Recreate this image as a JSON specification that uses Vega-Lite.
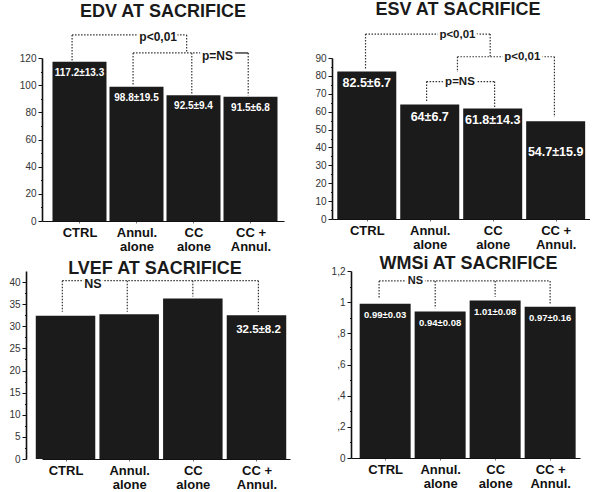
{
  "$schema": "https://vega.github.io/schema/vega-lite/v6.json",
  "padding": 0,
  "background": "white",
  "columns": 1,
  "spacing": 1,
  "config": {
    "view": {"stroke": null},
    "font": "Liberation Sans",
    "title": {"font": "Liberation Sans", "fontSize": 18, "fontWeight": "bold", "color": "#1a1a1a", "frame": "group", "anchor": "middle"},
    "axis": {"grid": false, "title": null, "labelFont": "Liberation Sans", "domainColor": "#111", "tickColor": "#111"},
    "axisY": {"domainWidth": 1.6, "labelFontSize": 10, "labelColor": "#333", "labelPadding": 2, "tickWidth": 1},
    "axisX": {"domainWidth": 1, "labelFontSize": 13, "labelFontWeight": "bold", "labelColor": "#111", "labelLineHeight": 14.5, "labelPadding": 3, "tickSize": 2, "tickColor": "#777", "labelFlush": false, "labelOverlap": false, "labelBound": false}
  },
  "datasets": {
    "edv": [
      {"group": "CTRL", "pos": 1, "value": 117.2, "label": "117.2±13.3"},
      {"group": "Annul. alone", "pos": 2, "value": 98.8, "label": "98.8±19.5"},
      {"group": "CC alone", "pos": 3, "value": 92.5, "label": "92.5±9.4"},
      {"group": "CC + Annul.", "pos": 4, "value": 91.5, "label": "91.5±6.8"}
    ],
    "edv_links": [
      {"pos": 0.87, "pos2": 2.88, "value": 137, "value2": 137},
      {"pos": 0.87, "pos2": 0.87, "value": 137, "value2": 118},
      {"pos": 2.88, "pos2": 2.88, "value": 137, "value2": 123.7},
      {"pos": 1.94, "pos2": 3.72, "value": 123.7, "value2": 123.7},
      {"pos": 1.94, "pos2": 1.94, "value": 123.7, "value2": 100.5},
      {"pos": 2.97, "pos2": 2.97, "value": 123.7, "value2": 93.8},
      {"pos": 3.96, "pos2": 3.96, "value": 123.7, "value2": 92.5}
    ],
    "edv_solid": [
      {"pos": 3.72, "pos2": 3.96, "value": 123.7, "value2": 123.7}
    ],
    "edv_notes": [
      {"pos": 2.38, "value": 135.1, "label": "p<0,01"},
      {"pos": 3.42, "value": 121.5, "label": "p=NS"}
    ],
    "esv": [
      {"group": "CTRL", "pos": 1, "value": 82.5, "label": "82.5±6.7"},
      {"group": "Annul. alone", "pos": 2, "value": 64, "label": "64±6.7"},
      {"group": "CC alone", "pos": 3, "value": 61.8, "label": "61.8±14.3"},
      {"group": "CC + Annul.", "pos": 4, "value": 54.7, "label": "54.7±15.9"}
    ],
    "esv_links": [
      {"pos": 0.98, "pos2": 2.96, "value": 103.4, "value2": 103.4},
      {"pos": 0.98, "pos2": 0.98, "value": 103.4, "value2": 83.3},
      {"pos": 2.96, "pos2": 2.96, "value": 103.4, "value2": 90.7},
      {"pos": 2.44, "pos2": 3.98, "value": 90.7, "value2": 90.7},
      {"pos": 2.44, "pos2": 2.44, "value": 90.7, "value2": 82.2},
      {"pos": 3.98, "pos2": 3.98, "value": 90.7, "value2": 57},
      {"pos": 1.95, "pos2": 3.03, "value": 76.8, "value2": 76.8},
      {"pos": 1.95, "pos2": 1.95, "value": 76.8, "value2": 65.6},
      {"pos": 3.03, "pos2": 3.03, "value": 76.8, "value2": 62.6}
    ],
    "esv_notes": [
      {"pos": 2.44, "value": 103.1, "label": "p<0,01"},
      {"pos": 3.47, "value": 90.6, "label": "p<0,01"},
      {"pos": 2.48, "value": 76.6, "label": "p=NS"}
    ],
    "lvef": [
      {"group": "CTRL", "pos": 1, "value": 32.4, "label": ""},
      {"group": "Annul. alone", "pos": 2, "value": 32.7, "label": ""},
      {"group": "CC alone", "pos": 3, "value": 36.3, "label": ""},
      {"group": "CC + Annul.", "pos": 4, "value": 32.5, "label": "32.5±8.2"}
    ],
    "lvef_links": [
      {"pos": 0.95, "pos2": 4.03, "value": 40.3, "value2": 40.3},
      {"pos": 0.95, "pos2": 0.95, "value": 40.3, "value2": 33.3},
      {"pos": 1.97, "pos2": 1.97, "value": 40.3, "value2": 33.3},
      {"pos": 3.0, "pos2": 3.0, "value": 40.3, "value2": 36.7},
      {"pos": 4.03, "pos2": 4.03, "value": 40.3, "value2": 33.3}
    ],
    "lvef_notes": [
      {"pos": 1.43, "value": 39.5, "label": "NS"}
    ],
    "wmsi": [
      {"group": "CTRL", "pos": 1, "value": 0.99, "label": "0.99±0.03"},
      {"group": "Annul. alone", "pos": 2, "value": 0.94, "label": "0.94±0.08"},
      {"group": "CC alone", "pos": 3, "value": 1.01, "label": "1.01±0.08"},
      {"group": "CC + Annul.", "pos": 4, "value": 0.97, "label": "0.97±0.16"}
    ],
    "wmsi_links": [
      {"pos": 0.89, "pos2": 4.0, "value": 1.136, "value2": 1.136},
      {"pos": 0.89, "pos2": 0.89, "value": 1.136, "value2": 1.025},
      {"pos": 1.91, "pos2": 1.91, "value": 1.136, "value2": 0.961},
      {"pos": 3.0, "pos2": 3.0, "value": 1.136, "value2": 1.035},
      {"pos": 4.0, "pos2": 4.0, "value": 1.136, "value2": 0.982}
    ],
    "wmsi_notes": [
      {"pos": 1.55, "value": 1.136, "label": "NS"}
    ]
  },
  "concat": [
    {
      "spacing": 24,
      "hconcat": [
        {
          "width": 242, "height": 163,
          "title": {"text": "EDV AT SACRIFICE", "offset": 10},
          "encoding": {
            "x": {"field": "pos", "type": "quantitative", "scale": {"domain": [0.43, 4.5], "nice": false, "zero": false},
                  "axis": {"values": [1, 2, 3, 4], "labelExpr": "datum.value === 1 ? 'CTRL' : datum.value === 2 ? ['Annul.', 'alone'] : datum.value === 3 ? ['CC', 'alone'] : ['CC +', 'Annul.']"}},
            "y": {"field": "value", "type": "quantitative", "scale": {"domain": [0, 120], "nice": false},
                  "axis": {"values": [0, 10, 20, 30, 40, 50, 60, 70, 80, 90, 100, 110, 120], "labelExpr": "datum.value % 20 === 0 ? datum.label : ''",
                           "tickSize": {"condition": {"test": "datum.value % 20 === 0", "value": 4}, "value": 1.5}, "minExtent": 42, "maxExtent": 42}}
          },
          "layer": [
            {"data": {"name": "edv"}, "mark": {"type": "bar", "width": 54, "color": "#1b1b1b"}},
            {"data": {"name": "edv"}, "mark": {"type": "text", "color": "white", "fontWeight": "bold", "fontSize": 10, "baseline": "middle", "dy": 11}, "encoding": {"text": {"field": "label"}}},
            {"data": {"name": "edv_links"}, "mark": {"type": "rule", "color": "#333", "strokeWidth": 1.2, "strokeDash": [1.5, 1.5]}, "encoding": {"x2": {"field": "pos2"}, "y2": {"field": "value2"}}},
            {"data": {"name": "edv_solid"}, "mark": {"type": "rule", "color": "#222", "strokeWidth": 1.3}, "encoding": {"x2": {"field": "pos2"}, "y2": {"field": "value2"}}},
            {"data": {"name": "edv_notes"}, "mark": {"type": "text", "fontWeight": "bold", "fontSize": 12, "fill": "white", "stroke": "white", "strokeWidth": 5, "baseline": "middle"}, "encoding": {"text": {"field": "label"}}},
            {"data": {"name": "edv_notes"}, "mark": {"type": "text", "fontWeight": "bold", "fontSize": 12, "color": "#1a1a1a", "baseline": "middle"}, "encoding": {"text": {"field": "label"}}}
          ]
        },
        {
          "width": 258, "height": 161,
          "title": {"text": "ESV AT SACRIFICE", "offset": 10, "dx": -3},
          "encoding": {
            "x": {"field": "pos", "type": "quantitative", "scale": {"domain": [0.527, 4.466], "nice": false, "zero": false},
                  "axis": {"values": [1, 2, 3, 4], "labelExpr": "datum.value === 1 ? 'CTRL' : datum.value === 2 ? ['Annul.', 'alone'] : datum.value === 3 ? ['CC', 'alone'] : ['CC +', 'Annul.']"}},
            "y": {"field": "value", "type": "quantitative", "scale": {"domain": [0, 90], "nice": false},
                  "axis": {"values": [0, 5, 10, 15, 20, 25, 30, 35, 40, 45, 50, 55, 60, 65, 70, 75, 80, 85, 90], "labelExpr": "datum.value % 10 === 0 ? datum.label : ''",
                           "tickSize": {"condition": {"test": "datum.value % 10 === 0", "value": 4}, "value": 1.5}, "minExtent": 24, "maxExtent": 24}}
          },
          "layer": [
            {"data": {"name": "esv"}, "mark": {"type": "bar", "width": 59, "color": "#1b1b1b"}},
            {"data": {"name": "esv"}, "transform": [{"filter": "datum.pos !== 4"}], "mark": {"type": "text", "color": "white", "fontWeight": "bold", "fontSize": 12.5, "baseline": "middle", "dy": 12}, "encoding": {"text": {"field": "label"}}},
            {"data": {"name": "esv"}, "transform": [{"filter": "datum.pos === 4"}], "mark": {"type": "text", "color": "white", "fontWeight": "bold", "fontSize": 12.5, "baseline": "middle", "dy": 31}, "encoding": {"text": {"field": "label"}}},
            {"data": {"name": "esv_links"}, "mark": {"type": "rule", "color": "#333", "strokeWidth": 1.2, "strokeDash": [1.5, 1.5]}, "encoding": {"x2": {"field": "pos2"}, "y2": {"field": "value2"}}},
            {"data": {"name": "esv_notes"}, "mark": {"type": "text", "fontWeight": "bold", "fontSize": 11.5, "fill": "white", "stroke": "white", "strokeWidth": 5, "baseline": "middle"}, "encoding": {"text": {"field": "label"}}},
            {"data": {"name": "esv_notes"}, "mark": {"type": "text", "fontWeight": "bold", "fontSize": 11.5, "color": "#1a1a1a", "baseline": "middle"}, "encoding": {"text": {"field": "label"}}}
          ]
        }
      ]
    },
    {
      "spacing": 36,
      "hconcat": [
        {
          "width": 248, "height": 188,
          "title": {"text": "LVEF AT SACRIFICE", "offset": -7, "dx": -11},
          "encoding": {
            "x": {"field": "pos", "type": "quantitative", "scale": {"domain": [0.709, 4.448], "nice": false, "zero": false},
                  "axis": {"values": [1, 2, 3, 4], "labelExpr": "datum.value === 1 ? 'CTRL' : datum.value === 2 ? ['Annul.', 'alone'] : datum.value === 3 ? ['CC', 'alone'] : ['CC +', 'Annul.']"}},
            "y": {"field": "value", "type": "quantitative", "scale": {"domain": [0, 42.49], "nice": false},
                  "axis": {"values": [0, 2.5, 5, 7.5, 10, 12.5, 15, 17.5, 20, 22.5, 25, 27.5, 30, 32.5, 35, 37.5, 40], "labelExpr": "datum.value % 5 === 0 ? datum.label : ''",
                           "tickSize": {"condition": {"test": "datum.value % 5 === 0", "value": 4}, "value": 1.5}, "offset": 16, "minExtent": 26, "maxExtent": 26}}
          },
          "layer": [
            {"data": {"name": "lvef"}, "mark": {"type": "bar", "width": 59.5, "color": "#1b1b1b"}},
            {"data": {"name": "lvef"}, "mark": {"type": "text", "color": "white", "fontWeight": "bold", "fontSize": 11.5, "baseline": "middle", "dy": 15, "dx": 2}, "encoding": {"text": {"field": "label"}}},
            {"data": {"name": "lvef_links"}, "mark": {"type": "rule", "color": "#333", "strokeWidth": 1.2, "strokeDash": [1.5, 1.5]}, "encoding": {"x2": {"field": "pos2"}, "y2": {"field": "value2"}}},
            {"data": {"name": "lvef_notes"}, "mark": {"type": "text", "fontWeight": "bold", "fontSize": 12.5, "fill": "white", "stroke": "white", "strokeWidth": 4, "baseline": "middle"}, "encoding": {"text": {"field": "label"}}},
            {"data": {"name": "lvef_notes"}, "mark": {"type": "text", "fontWeight": "bold", "fontSize": 12.5, "color": "#1a1a1a", "baseline": "middle"}, "encoding": {"text": {"field": "label"}}}
          ]
        },
        {
          "width": 229, "height": 187,
          "title": {"text": "WMSi AT SACRIFICE", "offset": -7, "dx": 3},
          "encoding": {
            "x": {"field": "pos", "type": "quantitative", "scale": {"domain": [0.47, 4.452], "nice": false, "zero": false},
                  "axis": {"values": [1, 2, 3, 4], "labelExpr": "datum.value === 1 ? 'CTRL' : datum.value === 2 ? ['Annul.', 'alone'] : datum.value === 3 ? ['CC', 'alone'] : ['CC +', 'Annul.']"}},
            "y": {"field": "value", "type": "quantitative", "scale": {"domain": [0, 1.2], "nice": false},
                  "axis": {"values": [0, 0.1, 0.2, 0.3, 0.4, 0.5, 0.6, 0.7, 0.8, 0.9, 1, 1.1, 1.2],
                           "labelExpr": "round(datum.value * 10) % 2 !== 0 ? '' : datum.value === 0 ? '0' : datum.value === 1 ? '1' : replace(replace(format(datum.value, '.1f'), '0.', ','), '.', ',')",
                           "tickSize": {"condition": {"test": "round(datum.value * 10) % 2 === 0", "value": 4}, "value": 1.5}, "minExtent": 25, "maxExtent": 25}}
          },
          "layer": [
            {"data": {"name": "wmsi"}, "mark": {"type": "bar", "width": 51, "color": "#1b1b1b"}},
            {"data": {"name": "wmsi"}, "mark": {"type": "text", "color": "white", "fontWeight": "bold", "fontSize": 9.5, "baseline": "middle", "dy": 11}, "encoding": {"text": {"field": "label"}}},
            {"data": {"name": "wmsi_links"}, "mark": {"type": "rule", "color": "#333", "strokeWidth": 1.2, "strokeDash": [1.5, 1.5]}, "encoding": {"x2": {"field": "pos2"}, "y2": {"field": "value2"}}},
            {"data": {"name": "wmsi_notes"}, "mark": {"type": "text", "fontWeight": "bold", "fontSize": 11, "fill": "white", "stroke": "white", "strokeWidth": 5, "baseline": "middle"}, "encoding": {"text": {"field": "label"}}},
            {"data": {"name": "wmsi_notes"}, "mark": {"type": "text", "fontWeight": "bold", "fontSize": 11, "color": "#1a1a1a", "baseline": "middle"}, "encoding": {"text": {"field": "label"}}}
          ]
        }
      ]
    }
  ]
}
